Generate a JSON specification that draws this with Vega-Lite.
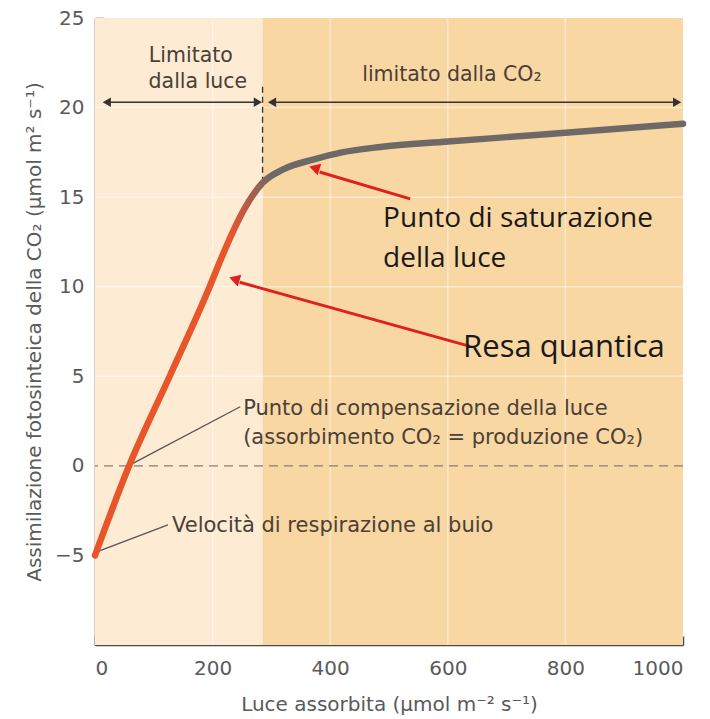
{
  "$schema": "https://vega.github.io/schema/vega-lite/v6.json",
  "width": 588,
  "height": 627,
  "autosize": {"type": "none"},
  "padding": {"left": 95, "top": 18, "right": 27, "bottom": 74},
  "background": "white",
  "config": {"view": {"stroke": null}, "font": "DejaVu Sans"},
  "datasets": {
    "bg": [
      {"x": 0, "x2": 285, "y": -10, "y2": 25, "region": "light"},
      {"x": 285, "x2": 1000, "y": -10, "y2": 25, "region": "dark"}
    ],
    "vgrid": [{"x": 200}, {"x": 400}, {"x": 600}, {"x": 800}],
    "hgrid": [{"y": 5}, {"y": 10}, {"y": 15}, {"y": 20}],
    "zero": [{"y": 0}],
    "divider": [{"x": 285, "y": 15.8, "y2": 21.3}],
    "curve": [
      {"x": 0, "y": -5}, {"x": 58, "y": 0}, {"x": 127, "y": 5}, {"x": 195, "y": 10},
      {"x": 215, "y": 11.6}, {"x": 235, "y": 13.1}, {"x": 255, "y": 14.4},
      {"x": 285, "y": 15.8}, {"x": 320, "y": 16.55}, {"x": 371, "y": 17.1}, {"x": 420, "y": 17.5},
      {"x": 485, "y": 17.8}, {"x": 600, "y": 18.1}, {"x": 700, "y": 18.35}, {"x": 800, "y": 18.6},
      {"x": 900, "y": 18.85}, {"x": 1000, "y": 19.1}
    ],
    "harrows": [{"x": 22, "x2": 275, "y": 20.3}, {"x": 303, "x2": 988, "y": 20.3}],
    "heads": [
      {"x": 20, "y": 20.3, "dir": "left"}, {"x": 277, "y": 20.3, "dir": "right"},
      {"x": 301, "y": 20.3, "dir": "left"}, {"x": 990, "y": 20.3, "dir": "right"}
    ],
    "leaders": [
      {"x": 62, "y": 0.1, "x2": 247, "y2": 3.3},
      {"x": 3, "y": -4.8, "x2": 124, "y2": -3.3}
    ],
    "redarrows": [
      {"x": 536, "y": 14.9, "x2": 382, "y2": 16.4},
      {"x": 638, "y": 6.67, "x2": 246, "y2": 10.25}
    ],
    "redheads": [{"x": 376, "y": 16.6}, {"x": 240, "y": 10.4}],
    "regionlabels": [
      {"x": 163, "y": 22.9, "label": "Limitato"},
      {"x": 175, "y": 21.4, "label": "dalla luce"},
      {"x": 607, "y": 21.8, "label": "limitato dalla CO₂"}
    ],
    "notes": [
      {"x": 252, "y": 3.2, "label": "Punto di compensazione della luce"},
      {"x": 252, "y": 1.55, "label": "(assorbimento CO₂ = produzione CO₂)"},
      {"x": 131, "y": -3.35, "label": "Velocità di respirazione al buio"}
    ],
    "bignotes": [
      {"x": 490, "y": 13.8, "label": "Punto di saturazione"},
      {"x": 490, "y": 11.55, "label": "della luce"}
    ],
    "resa": [{"x": 626, "y": 6.6, "label": "Resa quantica"}]
  },
  "encoding": {
    "x": {
      "field": "x", "type": "quantitative",
      "scale": {"domain": [0, 1000], "nice": false, "zero": false},
      "axis": {
        "title": "Luce assorbita (μmol m⁻² s⁻¹)",
        "values": [0, 200, 400, 600, 800, 1000], "format": "d",
        "grid": false, "domainColor": "#4a4a4a", "domainWidth": 1.5,
        "tickColor": "#4a4a4a", "tickWidth": 1.5, "tickSize": -9,
        "labelFontSize": 20, "labelColor": "#5a5a5a", "labelPadding": 22,
        "titleFontSize": 20, "titleFontWeight": "normal", "titleColor": "#5a5a5a", "titlePadding": 16
      }
    },
    "y": {
      "field": "y", "type": "quantitative",
      "scale": {"domain": [-10, 25], "nice": false, "zero": false},
      "axis": {
        "title": "Assimilazione fotosinteica della CO₂ (μmol m² s⁻¹)",
        "values": [-5, 0, 5, 10, 15, 20, 25],
        "grid": false, "domainColor": "#4a4a4a", "domainWidth": 1.5,
        "tickColor": "#4a4a4a", "tickWidth": 1.5, "tickSize": -9,
        "labelFontSize": 20, "labelColor": "#5a5a5a", "labelPadding": 20,
        "titleFontSize": 20, "titleFontWeight": "normal", "titleColor": "#5a5a5a", "titlePadding": 10
      }
    }
  },
  "layer": [
    {
      "data": {"name": "bg"},
      "mark": {"type": "rect"},
      "encoding": {
        "x2": {"field": "x2"},
        "y2": {"field": "y2"},
        "color": {"field": "region", "type": "nominal", "legend": null,
          "scale": {"domain": ["light", "dark"], "range": ["#FDEBD3", "#F9D7A2"]}}
      }
    },
    {
      "data": {"name": "vgrid"},
      "mark": {"type": "rule", "color": "white", "opacity": 0.45, "strokeWidth": 1.5},
      "encoding": {"y": null}
    },
    {
      "data": {"name": "hgrid"},
      "mark": {"type": "rule", "color": "white", "opacity": 0.45, "strokeWidth": 1.5},
      "encoding": {"x": null}
    },
    {
      "data": {"name": "zero"},
      "mark": {"type": "rule", "color": "#8a7d70", "strokeWidth": 1.3, "strokeDash": [9, 6]},
      "encoding": {"x": null}
    },
    {
      "data": {"name": "divider"},
      "mark": {"type": "rule", "color": "#333333", "strokeWidth": 1.3, "strokeDash": [6, 4]},
      "encoding": {"y2": {"field": "y2"}}
    },
    {
      "data": {"name": "harrows"},
      "mark": {"type": "rule", "color": "#333333", "strokeWidth": 1.6},
      "encoding": {"x2": {"field": "x2"}}
    },
    {
      "data": {"name": "heads"},
      "mark": {"type": "point", "filled": true, "size": 90, "color": "#333333", "opacity": 1},
      "encoding": {
        "shape": {"field": "dir", "type": "nominal", "legend": null,
          "scale": {"domain": ["left", "right"], "range": ["triangle-left", "triangle-right"]}}
      }
    },
    {
      "data": {"name": "leaders"},
      "mark": {"type": "rule", "color": "#555555", "strokeWidth": 1.3},
      "encoding": {"x2": {"field": "x2"}, "y2": {"field": "y2"}}
    },
    {
      "data": {"name": "curve"},
      "mark": {
        "type": "line", "interpolate": "monotone", "strokeWidth": 6.5, "strokeCap": "round",
        "stroke": {
          "gradient": "linear", "x1": 0, "y1": 0, "x2": 1, "y2": 0,
          "stops": [
            {"offset": 0, "color": "#E8552A"},
            {"offset": 0.23, "color": "#E8552A"},
            {"offset": 0.3, "color": "#6E6966"},
            {"offset": 1, "color": "#6E6966"}
          ]
        }
      },
      "encoding": {}
    },
    {
      "data": {"name": "redarrows"},
      "mark": {"type": "rule", "color": "#E0201C", "strokeWidth": 3},
      "encoding": {"x2": {"field": "x2"}, "y2": {"field": "y2"}}
    },
    {
      "data": {"name": "redheads"},
      "mark": {"type": "point", "shape": "triangle", "filled": true, "size": 150, "angle": 287, "color": "#E0201C", "opacity": 1},
      "encoding": {}
    },
    {
      "data": {"name": "regionlabels"},
      "mark": {"type": "text", "fontSize": 20.5, "color": "#4a4038", "align": "center", "baseline": "middle"},
      "encoding": {"text": {"field": "label"}}
    },
    {
      "data": {"name": "notes"},
      "mark": {"type": "text", "fontSize": 21, "color": "#4a4038", "align": "left", "baseline": "middle"},
      "encoding": {"text": {"field": "label"}}
    },
    {
      "data": {"name": "bignotes"},
      "mark": {"type": "text", "font": "Open Sans", "fontSize": 28, "color": "#1a1a1a", "align": "left", "baseline": "middle"},
      "encoding": {"text": {"field": "label"}}
    },
    {
      "data": {"name": "resa"},
      "mark": {"type": "text", "font": "Open Sans", "fontSize": 31, "color": "#1a1a1a", "align": "left", "baseline": "middle"},
      "encoding": {"text": {"field": "label"}}
    }
  ]
}
